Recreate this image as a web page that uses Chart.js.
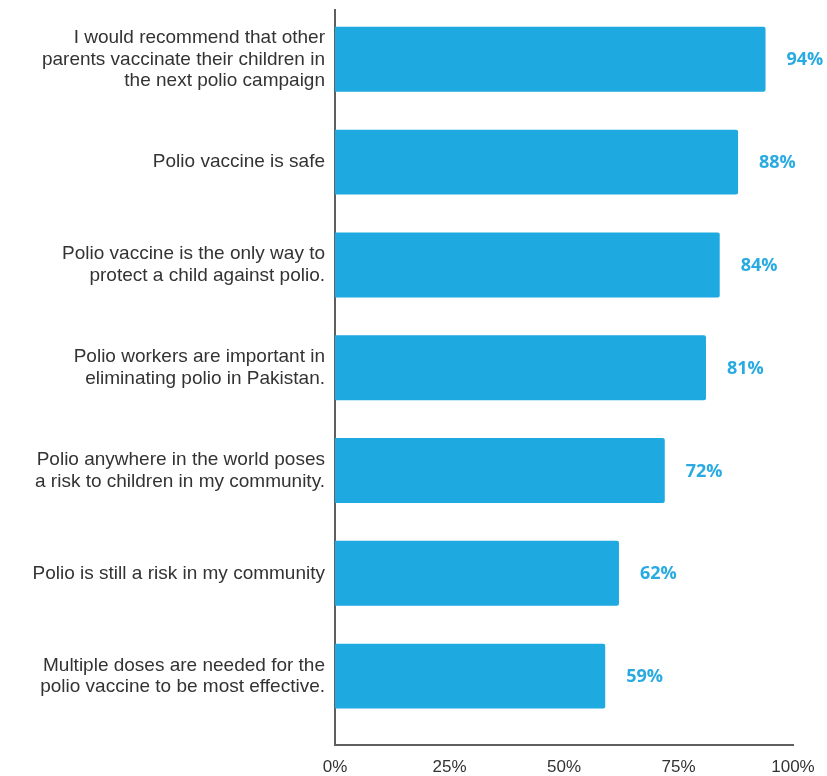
<!DOCTYPE html>
<html>
<head>
<meta charset="utf-8">
<title>Polio vaccine attitudes</title>
<script src="https://cdn.jsdelivr.net/npm/chart.js@4/dist/chart.umd.min.js"></script>
<style>
  html, body { margin: 0; padding: 0; background: #fff; }
  canvas { display: block; }
</style>
</head>
<body>
<canvas id="attitudes" width="827" height="776"></canvas>
<script>
'use strict';

// statements, one per bar (multi-line where the label wraps)
var statements = [
  ['I would recommend that other', 'parents vaccinate their children in', 'the next polio campaign'],
  'Polio vaccine is safe',
  ['Polio vaccine is the only way to', 'protect a child against polio.'],
  ['Polio workers are important in', 'eliminating polio in Pakistan.'],
  ['Polio anywhere in the world poses', 'a risk to children in my community.'],
  'Polio is still a risk in my community',
  ['Multiple doses are needed for the', 'polio vaccine to be most effective.']
];
// share agreeing, percent
var agreePct = [94, 88, 84, 81, 72, 62, 59];
var pctTicks = [0, 25, 50, 75, 100];

var barBlue = '#1ea9e0';
var textGrey = '#333333';
var axisGrey = '#5f5f5f';

// percent printed to the right of each bar
var valueLabels = {
  id: 'valueLabels',
  afterDatasetsDraw: function (chart) {
    var ctx = chart.ctx;
    var meta = chart.getDatasetMeta(0);
    ctx.save();
    ctx.font = 'bold 18px "Open Sans", sans-serif';
    ctx.fillStyle = '#29abe2';
    ctx.textAlign = 'left';
    ctx.textBaseline = 'middle';
    meta.data.forEach(function (bar, i) {
      ctx.fillText(agreePct[i] + '%', bar.x + 21, bar.y + 1);
    });
    ctx.restore();
  }
};

var points = agreePct.map(function (v, i) {
  return { x: v, y: i };
});

var context = document.getElementById('attitudes').getContext('2d');
var myChart = new Chart(context, {
  type: 'bar',
  data: {
    datasets: [{
      data: points,
      backgroundColor: barBlue,
      borderRadius: 2,
      borderSkipped: 'start',
      barPercentage: 0.632,
      categoryPercentage: 1
    }]
  },
  options: {
    indexAxis: 'y',
    responsive: false,
    animation: false,
    layout: { padding: { top: 10, right: 34, left: 0, bottom: 0 } },
    plugins: {
      legend: { display: false },
      tooltip: { enabled: false }
    },
    scales: {
      x: {
        type: 'linear',
        min: 0,
        max: 100,
        afterBuildTicks: function (scale) {
          scale.ticks = pctTicks.map(function (v) { return { value: v }; });
        },
        afterFit: function (scale) { scale.height = 31; },
        grid: { display: false, drawTicks: false },
        border: { display: true, color: axisGrey, width: 2 },
        ticks: {
          padding: 12,
          color: textGrey,
          font: { family: '"Liberation Sans", Arial, sans-serif', size: 17 },
          callback: function (v) { return v + '%'; }
        }
      },
      y: {
        type: 'linear',
        reverse: true,
        offset: false,
        min: -0.48,
        max: 6.67,
        afterBuildTicks: function (scale) {
          scale.ticks = statements.map(function (s, i) { return { value: i }; });
        },
        afterFit: function (scale) {
          scale.width = 335;
          scale.paddingTop = 0;
          scale.paddingBottom = 0;
        },
        grid: { display: false, drawTicks: false },
        border: { display: true, color: axisGrey, width: 2 },
        ticks: {
          autoSkip: false,
          padding: 10,
          color: textGrey,
          font: { family: '"Liberation Sans", Arial, sans-serif', size: 19, lineHeight: 1.13 },
          callback: function (v) { return statements[v]; }
        }
      }
    }
  },
  plugins: [valueLabels]
});
</script>
</body>
</html>
